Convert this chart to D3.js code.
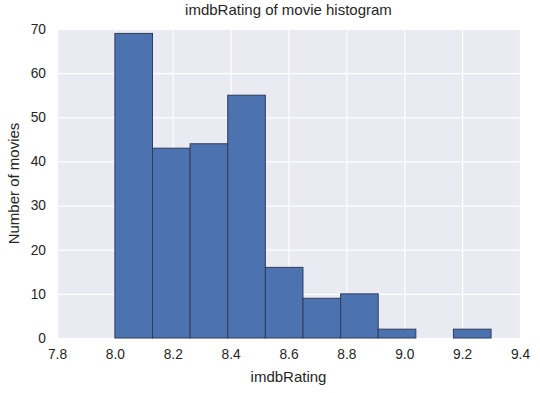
<!DOCTYPE html>
<html><head><meta charset="utf-8">
<script src="https://cdn.jsdelivr.net/npm/d3@7"></script>
<style>body{margin:0;background:#fff}svg{display:block}text{font-family:"Liberation Sans",Arial,sans-serif}</style>
</head><body><svg id="c" width="540" height="393"></svg>
<script>
const binStart = 8.0;
const binWidth = 0.13;
const counts = [69, 43, 44, 55, 16, 9, 10, 2, 0, 2];
const xTicks = [7.8, 8.0, 8.2, 8.4, 8.6, 8.8, 9.0, 9.2, 9.4];
const yTicks = [0, 10, 20, 30, 40, 50, 60, 70];

const svg = d3.select("#c");
const m = {l: 57, r: 20, t: 29, b: 55};
const W = 540, H = 393;
const x = d3.scaleLinear().domain([7.8, 9.4]).range([m.l, W - m.r]);
const y = d3.scaleLinear().domain([0, 70]).range([H - m.b, m.t]);

svg.append("rect").attr("x", m.l).attr("y", m.t).attr("width", W - m.l - m.r).attr("height", H - m.t - m.b).attr("fill", "#EAEAF2");

const gx = svg.append("g").attr("transform", `translate(0,${H - m.b})`)
  .call(d3.axisBottom(x).tickValues(xTicks).tickFormat(d3.format(".1f")).tickSize(-(H - m.t - m.b)).tickPadding(11));
const gy = svg.append("g").attr("transform", `translate(${m.l},0)`)
  .call(d3.axisLeft(y).tickValues(yTicks).tickSize(-(W - m.l - m.r)).tickPadding(11));
[gx, gy].forEach(g => {
  g.select(".domain").remove();
  g.selectAll(".tick line").attr("stroke", "#fff").attr("stroke-width", 1.2);
  g.selectAll(".tick text").attr("fill", "#262626").style("font-size", "13.75px");
});

const bins = counts.map((c, i) => ({x0: binStart + i * binWidth, x1: binStart + (i + 1) * binWidth, c}));
svg.append("g").selectAll("rect").data(bins).join("rect")
  .attr("x", d => x(d.x0)).attr("width", d => x(d.x1) - x(d.x0))
  .attr("y", d => y(d.c)).attr("height", d => y(0) - y(d.c))
  .attr("fill", "#4C72B0").attr("stroke", "#2f3d58").attr("stroke-width", 1);

svg.append("text").attr("x", (m.l + W - m.r) / 2).attr("y", 15).attr("text-anchor", "middle")
  .attr("fill", "#262626").style("font-size", "15px").text("imdbRating of movie histogram");
svg.append("text").attr("x", (m.l + W - m.r) / 2).attr("y", 382).attr("text-anchor", "middle")
  .attr("fill", "#262626").style("font-size", "15px").text("imdbRating");
svg.append("text").attr("transform", `translate(19,${(m.t + H - m.b) / 2}) rotate(-90)`).attr("text-anchor", "middle")
  .attr("fill", "#262626").style("font-size", "15px").text("Number of movies");
</script></body></html>
